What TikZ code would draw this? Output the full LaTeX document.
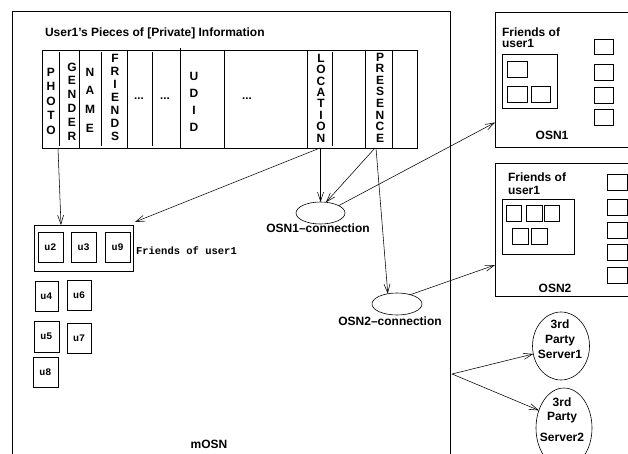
\documentclass[tikz,border=0pt]{standalone}
\usepackage{fontspec}
\setmainfont{Liberation Sans}
\setmonofont{Liberation Mono}
\usetikzlibrary{shapes.geometric,arrows.meta,calc}
\begin{document}
\begin{tikzpicture}[x=1pt,y=-1pt,line width=0.6pt,
  every node/.style={inner sep=0pt,outer sep=0pt},
  lbl/.style={font=\fontsize{12}{14}\selectfont\bfseries},
  vlbl/.style={font=\fontsize{12}{#1}\selectfont\bfseries,align=center},
  dots/.style={font=\fontsize{11.5}{14}\selectfont\bfseries},
  ulbl/.style={font=\fontsize{10}{11}\selectfont\ttfamily\bfseries},
  rbox/.style 2 args={draw,rectangle,minimum width=#1pt,minimum height=#2pt},
  oval/.style 2 args={draw,ellipse,minimum width=#1pt,minimum height=#2pt},
  arr/.style={-{Straight Barb[length=9pt,width=6pt]},line width=0.55pt},
]
\useasboundingbox (0,0) rectangle (628,454);

% main mOSN box (cut at the bottom)
\node[rbox={438}{470}] (mosn) at (231,246) {};
\node[lbl,anchor=base] (mosnlbl) at (209,448) {mOSN};

% title
\node[lbl,anchor=base west] (title) at (45,36.5) {User1’s Pieces of [Private] Information};

% information table
\node[rbox={375}{98}] (tab) at (229.5,99) {};
\foreach \x in {79,127,224,307,365,392} \draw (\x,50) -- (\x,148);
\draw (180,48) -- (180,148);
\foreach \x in {59,101,152,332} \draw (\x,52) -- (\x,146);

\node[vlbl=14.5pt] (photo)    at (51,101)   {P\\H\\O\\T\\O};
\node[vlbl=13.8pt] (gender)   at (72,101.5) {G\\E\\N\\D\\E\\R};
\node[vlbl=18.7pt] (name)     at (90,100)   {N\\A\\M\\E};
\node[vlbl=13.1pt] (friends)  at (115,97.5) {F\\R\\I\\E\\N\\D\\S};
\node[dots,anchor=base] (d1)  at (139,100)  {...};
\node[dots,anchor=base] (d2)  at (165,100)  {...};
\node[vlbl=17pt]   (udid)     at (194,101.5){U\\D\\I\\D};
\node[dots,anchor=base] (d3)  at (247,100)  {...};
\node[vlbl=11.4pt] (location) at (321,98)   {L\\O\\C\\A\\T\\I\\O\\N};
\node[vlbl=11.6pt] (presence) at (380,97.5) {P\\R\\E\\S\\E\\N\\C\\E};

% friends of user1 inside mOSN
\node[rbox={99}{46}] (fr) at (83.5,248) {};
\node[rbox={25}{30},ulbl] (u2) at (50.5,247) {u2};
\node[rbox={25}{30},ulbl] (u3) at (83.5,247) {u3};
\node[rbox={25}{30},ulbl] (u9) at (117.5,247) {u9};
\node[ulbl,font=\fontsize{10.5}{12}\selectfont\ttfamily\bfseries,anchor=base west] (frlbl) at (136,254.5) {Friends of user1};
\node[rbox={23}{30},ulbl] (u4) at (46.5,296) {u4};
\node[rbox={24}{30},ulbl] (u6) at (79,295) {u6};
\node[rbox={25}{31},ulbl] (u5) at (46.5,336.5) {u5};
\node[rbox={24}{30},ulbl] (u7) at (79,338) {u7};
\node[rbox={25}{30},ulbl] (u8) at (45.5,372) {u8};

% connection ellipses
\node[oval={49}{22}] (c1) at (320.5,213) {};
\node[lbl,anchor=base] (c1lbl) at (318,232) {OSN1–connection};
\node[oval={50}{22}] (c2) at (397,304) {};
\node[lbl,anchor=base] (c2lbl) at (390,325.5) {OSN2–connection};

% OSN1
\node[rbox={145}{135}] (osnone) at (567.5,80) {};
\node[lbl,anchor=base west] (o1a) at (502,36.3) {Friends of};
\node[lbl,anchor=base west] (o1b) at (502,48) {user1};
\node[rbox={55}{54}] (o1in) at (529.5,81) {};
\node[rbox={20}{16}] (o1s1) at (517,69) {};
\node[rbox={20}{16}] (o1s2) at (517,94) {};
\node[rbox={19}{16}] (o1s3) at (540.5,94) {};
\node[rbox={19}{15}] (o1r1) at (603.5,46.5) {};
\node[rbox={19}{16}] (o1r2) at (603.5,72) {};
\node[rbox={19}{16}] (o1r3) at (603.5,95) {};
\node[rbox={19}{16}] (o1r4) at (603.5,117) {};
\node[lbl,anchor=base] (o1lbl) at (552,139.5) {OSN1};

% OSN2
\node[rbox={145}{133}] (osntwo) at (567.5,229.5) {};
\node[lbl,anchor=base west] (o2a) at (508,181.3) {Friends of};
\node[lbl,anchor=base west] (o2b) at (508,195) {user1};
\node[rbox={72}{55}] (o2in) at (538,226.5) {};
\node[rbox={15}{16}] (o2s1) at (513.5,213) {};
\node[rbox={16}{16}] (o2s2) at (534,213) {};
\node[rbox={15}{16}] (o2s3) at (551.5,213) {};
\node[rbox={16}{16}] (o2s4) at (520,236) {};
\node[rbox={16}{16}] (o2s5) at (539,236) {};
\foreach \y [count=\i] in {182,207,230,252,275}
  \node[rbox={20}{16}] (o2r\i) at (617,\y) {};
\node[lbl,anchor=base] (o2lbl) at (555,292.5) {OSN2};

% third party servers
\node[oval={57}{68}] (s1) at (561,346) {};
\node[lbl,anchor=base] (s1a) at (560,328.3) {3rd};
\node[lbl,anchor=base] (s1b) at (560,343.3) {Party};
\node[lbl,anchor=base] (s1c) at (560,358.3) {Server1};
\node[oval={56}{80}] (s2) at (564,428) {};
\node[lbl,anchor=base] (s2a) at (562,406) {3rd};
\node[lbl,anchor=base] (s2b) at (562,420) {Party};
\node[lbl,anchor=base] (s2c) at (562,441) {Server2};
\coordinate (tp) at (452,374);

% connectors
\draw[arr] ($(photo |- tab.south)+(7,0)$) -- ($(fr.north west)+(27,0)$);
\draw[arr] ($(location |- tab.south)+(-1,0)$) -- ($(fr.north east)+(2,-3)$);
\draw[arr] (c1.north |- tab.south) -- (c1.north);
\draw[arr] ($(presence |- tab.south)+(-5,0)$) -- (c1.63);
\draw[arr] ($(presence |- tab.south)+(-4,0)$) -- (c2.132);
\draw[arr] (c1.22) -- ([yshift=25pt]osnone.south west);
\draw[arr] (c2.35) -- ([yshift=31pt]osntwo.south west);
\draw[arr] (tp) -- (s1.196.5);
\draw[arr] (tp) -- (s2.145);
\end{tikzpicture}
\end{document}
